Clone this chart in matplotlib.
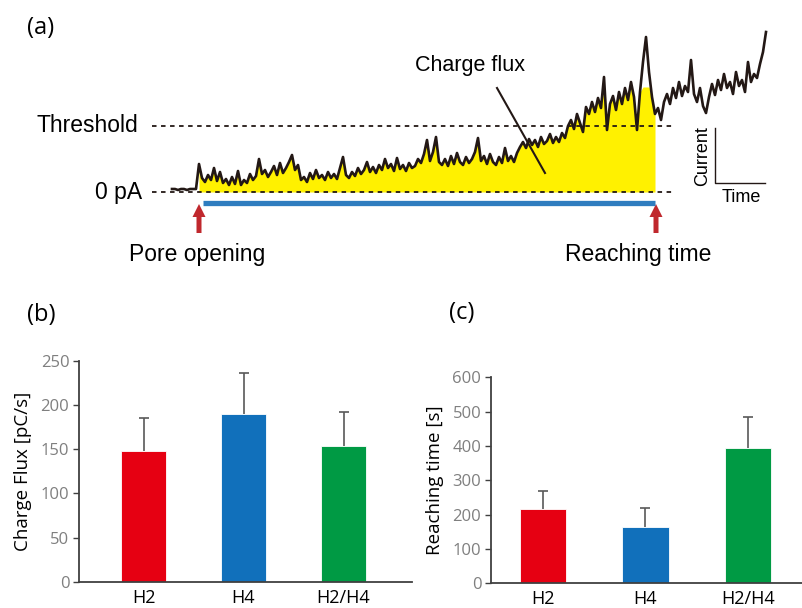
import numpy as np
import matplotlib.pyplot as plt

# ---- data ----
# (a) current trace, sampled every 3 time units (arbitrary units, 0 pA = 0, threshold = 66)
current = [3, 3, 2, 3, 3, 2, 3, 3, 3, 28,
           14, 10, 17, 12, 24, 11, 20, 9, 13, 7,
           15, 8, 21, 7, 12, 9, 18, 12, 16, 33,
           18, 22, 15, 20, 26, 17, 29, 19, 24, 30,
           37, 22, 27, 12, 15, 10, 19, 13, 22, 14,
           17, 12, 20, 14, 18, 13, 24, 35, 17, 14,
           20, 16, 24, 18, 22, 30, 20, 25, 19, 27,
           22, 33, 24, 28, 21, 34, 23, 27, 21, 29,
           24, 26, 33, 29, 38, 52, 31, 40, 55, 30,
           27, 33, 26, 36, 28, 39, 30, 27, 35, 29,
           33, 40, 54, 31, 36, 28, 38, 30, 27, 35,
           29, 44, 31, 36, 30, 39, 45, 50, 44, 53,
           47, 52, 45, 55, 48, 51, 58, 49, 55, 50,
           59, 54, 66, 72, 63, 78, 69, 60, 85, 78,
           90, 80, 94, 84, 115, 62, 88, 96, 82, 100,
           88, 104, 92, 110, 95, 62, 100, 130, 155, 120,
           95, 78, 84, 72, 90, 98, 88, 104, 94, 110,
           96, 106, 100, 132, 98, 90, 104, 86, 79, 95,
           108, 97, 112, 102, 118, 104, 110, 98, 120, 106,
           112, 100, 130, 110, 118, 114, 128, 140, 160]
dt = 3
threshold = 66
pore_open = 27
reach = 484
fill_cap = 105  # yellow area does not follow the last spikes

# (b) charge flux, (c) reaching time
groups = ["H2", "H4", "H2/H4"]
flux_mean = [148, 190, 154]
flux_err = [37, 46, 38]
time_mean = [215, 163, 395]
time_err = [54, 57, 90]
bar_colors = ["#E60012", "#1170BB", "#009A44"]

t = np.arange(len(current)) * dt
current = np.array(current)

fig = plt.figure(figsize=(8.02, 6.08), dpi=100)

# ---- panel (a) ----
ax = fig.add_axes([0, 1 - 300 / 608, 1, 300 / 608])
ax.set_xlim(-172, 630)
ax.set_ylim(-108, 192)
ax.axis("off")

sans = "Liberation Sans"
dots = dict(color="#231815", lw=1.3, ls=(0, (2.5, 2.5)))
ax.plot([-20, 503], [0, 0], **dots)
ax.plot([-20, 501], [threshold, threshold], **dots)

m = (t >= pore_open) & (t <= reach)
ax.fill_between(t[m], 0, np.minimum(current[m], fill_cap), color="#FFF100", lw=0)
ax.plot(t, current, color="#231815", lw=1.9)

ax.plot([pore_open + 4, reach - 1], [-10.5, -10.5], color="#2F7DBF", lw=3.8,
        solid_capstyle="butt")
for x in (pore_open, reach):
    ax.arrow(x, -41, 0, 29, width=5, head_width=13, head_length=13,
             length_includes_head=True, color="#C0282D", lw=0)

ax.text(-34, threshold, "Threshold", ha="right", va="center", fontsize=16.5, family=sans)
ax.text(-30, 0, "0 pA", ha="right", va="center", fontsize=16.5, family=sans)
ax.text(pore_open - 2, -62, "Pore opening", ha="center", va="center", fontsize=16.5, family=sans)
ax.text(reach - 18, -62, "Reaching time", ha="center", va="center", fontsize=16.5, family=sans)
ax.text(298, 126, "Charge flux", ha="center", va="center", fontsize=15.5, family=sans)
ax.plot([325, 373], [104, 19], color="#231815", lw=1.5)

# scale bar
ax.plot([543, 543, 593], [64, 9, 9], color="#231815", lw=1.0)
ax.text(531, 36, "Current", rotation=90, ha="center", va="center", fontsize=13, family=sans)
ax.text(569, -5, "Time", ha="center", va="center", fontsize=13, family=sans)

# ---- panels (b) and (c) ----
font = "Open Sans"


def bar_panel(rect, means, errs, ylim, step, ylabel, xlim):
    a = fig.add_axes(rect)
    x = np.arange(len(groups))
    tops = np.array(means) + np.array(errs)
    a.bar(x, means, width=0.45, color=bar_colors, edgecolor="white", lw=0.6)
    a.vlines(x, means, tops, color="#595959", lw=1.2)
    a.plot(x, tops, ls="none", marker="_", ms=7, mew=1.2, color="#595959")
    a.set_xlim(*xlim)
    a.set_ylim(*ylim)
    a.set_yticks(np.arange(ylim[0], ylim[1] + 1, step))
    a.set_xticks(x)
    a.set_xticklabels(groups, fontsize=13, family=font)
    for lab in a.get_yticklabels():
        lab.set_family(font)
    a.tick_params(axis="y", labelsize=12, labelcolor="#7F7F7F", color="#404040",
                  length=4, width=1.0, pad=3)
    a.tick_params(axis="x", length=0, pad=5)
    for s in ("top", "right"):
        a.spines[s].set_visible(False)
    for s in ("left", "bottom"):
        a.spines[s].set_color("#404040")
        a.spines[s].set_linewidth(1.3)
    a.set_ylabel(ylabel, fontsize=13.5, family=font, labelpad=6)
    return a


bar_panel([79 / 802, 1 - 581.7 / 608, 333 / 802, 220.7 / 608],
          flux_mean, flux_err, (0, 250), 50, "Charge Flux [pC/s]", (-0.645, 2.685))
bar_panel([491 / 802, 1 - 583.3 / 608, 311 / 802, 206 / 608],
          time_mean, time_err, (0, 600), 100, "Reaching time [s]", (-0.507, 2.527))

fig.text(27 / 802, 1 - 28 / 608, "(a)", va="center", fontsize=17, family=font)
fig.text(27 / 802, 1 - 315 / 608, "(b)", va="center", fontsize=17, family=font)
fig.text(449 / 802, 1 - 313 / 608, "(c)", va="center", fontsize=17, family=font)

fig.savefig("out.png", dpi=100)
